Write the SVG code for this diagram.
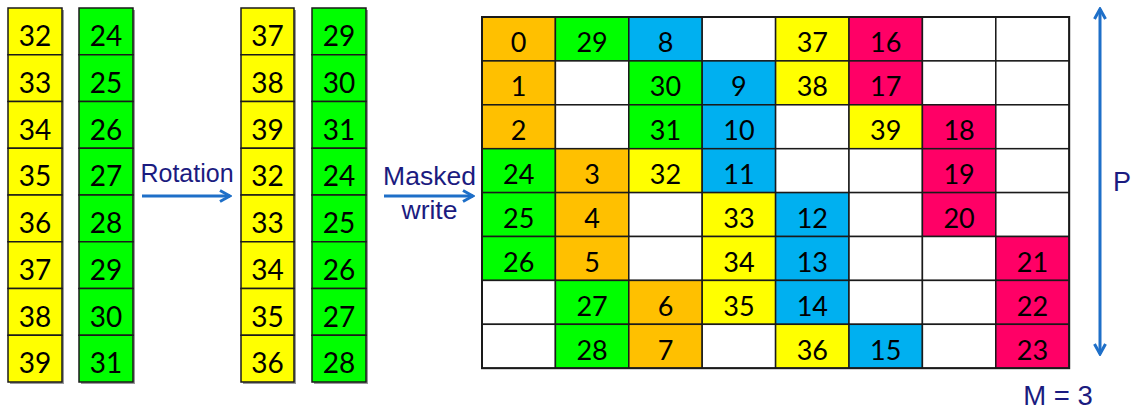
<svg xmlns="http://www.w3.org/2000/svg" width="1132" height="412" viewBox="0 0 1132 412">
<defs>
<style>
.c{stroke:#1a1a1a;stroke-width:1.5}
.sh{fill:#9a9a9a}
.y{fill:#FFFF00}.g{fill:#00FF00}.o{fill:#FFC000}.b{fill:#00B0F0}.p{fill:#FF0066}.w{fill:#FFFFFF}
.t{font-family:Lato,"Liberation Sans",sans-serif;font-size:28px;fill:#000;text-anchor:middle}
.gt{font-family:Lato,"Liberation Sans",sans-serif;font-size:27px;fill:#000;text-anchor:middle}
.lb{font-family:"Liberation Sans",Arial,sans-serif;fill:#1B1B80;text-anchor:middle}
.ar{stroke:#1E6FC8;stroke-width:3;fill:none}
</style>
<marker id="ah" viewBox="0 0 14 14" refX="12" refY="7" markerWidth="14" markerHeight="14" markerUnits="userSpaceOnUse" orient="auto-start-reverse">
<path d="M2,1.5 L12,7 L2,12.5" fill="none" stroke="#1E6FC8" stroke-width="3"/>
</marker>
</defs>
<rect width="1132" height="412" fill="#fff"/>

<!-- shadows -->
<rect class="sh" x="10" y="10" width="54" height="374"/>
<rect class="sh" x="81" y="10" width="54" height="374"/>
<rect class="sh" x="243" y="10" width="53" height="374"/>
<rect class="sh" x="314" y="10" width="54" height="374"/>

<g id="col1">
<g id="c1-0"><rect class="c y" x="8" y="8" width="54" height="46.75"/><text class="t" x="35" y="46">32</text></g>
<g id="c1-1"><rect class="c y" x="8" y="54.75" width="54" height="46.75"/><text class="t" x="35" y="92.75">33</text></g>
<g id="c1-2"><rect class="c y" x="8" y="101.5" width="54" height="46.75"/><text class="t" x="35" y="139.5">34</text></g>
<g id="c1-3"><rect class="c y" x="8" y="148.25" width="54" height="46.75"/><text class="t" x="35" y="186.25">35</text></g>
<g id="c1-4"><rect class="c y" x="8" y="195" width="54" height="46.75"/><text class="t" x="35" y="233">36</text></g>
<g id="c1-5"><rect class="c y" x="8" y="241.75" width="54" height="46.75"/><text class="t" x="35" y="279.75">37</text></g>
<g id="c1-6"><rect class="c y" x="8" y="288.5" width="54" height="46.75"/><text class="t" x="35" y="326.5">38</text></g>
<g id="c1-7"><rect class="c y" x="8" y="335.25" width="54" height="46.75"/><text class="t" x="35" y="373.25">39</text></g>
</g>
<g id="col2">
<g id="c2-0"><rect class="c g" x="79" y="8" width="54" height="46.75"/><text class="t" x="106" y="46">24</text></g>
<g id="c2-1"><rect class="c g" x="79" y="54.75" width="54" height="46.75"/><text class="t" x="106" y="92.75">25</text></g>
<g id="c2-2"><rect class="c g" x="79" y="101.5" width="54" height="46.75"/><text class="t" x="106" y="139.5">26</text></g>
<g id="c2-3"><rect class="c g" x="79" y="148.25" width="54" height="46.75"/><text class="t" x="106" y="186.25">27</text></g>
<g id="c2-4"><rect class="c g" x="79" y="195" width="54" height="46.75"/><text class="t" x="106" y="233">28</text></g>
<g id="c2-5"><rect class="c g" x="79" y="241.75" width="54" height="46.75"/><text class="t" x="106" y="279.75">29</text></g>
<g id="c2-6"><rect class="c g" x="79" y="288.5" width="54" height="46.75"/><text class="t" x="106" y="326.5">30</text></g>
<g id="c2-7"><rect class="c g" x="79" y="335.25" width="54" height="46.75"/><text class="t" x="106" y="373.25">31</text></g>
</g>
<g id="col3">
<g id="c3-0"><rect class="c y" x="241" y="8" width="53" height="46.75"/><text class="t" x="267.5" y="46">37</text></g>
<g id="c3-1"><rect class="c y" x="241" y="54.75" width="53" height="46.75"/><text class="t" x="267.5" y="92.75">38</text></g>
<g id="c3-2"><rect class="c y" x="241" y="101.5" width="53" height="46.75"/><text class="t" x="267.5" y="139.5">39</text></g>
<g id="c3-3"><rect class="c y" x="241" y="148.25" width="53" height="46.75"/><text class="t" x="267.5" y="186.25">32</text></g>
<g id="c3-4"><rect class="c y" x="241" y="195" width="53" height="46.75"/><text class="t" x="267.5" y="233">33</text></g>
<g id="c3-5"><rect class="c y" x="241" y="241.75" width="53" height="46.75"/><text class="t" x="267.5" y="279.75">34</text></g>
<g id="c3-6"><rect class="c y" x="241" y="288.5" width="53" height="46.75"/><text class="t" x="267.5" y="326.5">35</text></g>
<g id="c3-7"><rect class="c y" x="241" y="335.25" width="53" height="46.75"/><text class="t" x="267.5" y="373.25">36</text></g>
</g>
<g id="col4">
<g id="c4-0"><rect class="c g" x="312" y="8" width="54" height="46.75"/><text class="t" x="339" y="46">29</text></g>
<g id="c4-1"><rect class="c g" x="312" y="54.75" width="54" height="46.75"/><text class="t" x="339" y="92.75">30</text></g>
<g id="c4-2"><rect class="c g" x="312" y="101.5" width="54" height="46.75"/><text class="t" x="339" y="139.5">31</text></g>
<g id="c4-3"><rect class="c g" x="312" y="148.25" width="54" height="46.75"/><text class="t" x="339" y="186.25">24</text></g>
<g id="c4-4"><rect class="c g" x="312" y="195" width="54" height="46.75"/><text class="t" x="339" y="233">25</text></g>
<g id="c4-5"><rect class="c g" x="312" y="241.75" width="54" height="46.75"/><text class="t" x="339" y="279.75">26</text></g>
<g id="c4-6"><rect class="c g" x="312" y="288.5" width="54" height="46.75"/><text class="t" x="339" y="326.5">27</text></g>
<g id="c4-7"><rect class="c g" x="312" y="335.25" width="54" height="46.75"/><text class="t" x="339" y="373.25">28</text></g>
</g>

<g id="grid">
<!-- row 0 -->
<g id="g0-0"><rect class="c o" x="482" y="17" width="73.4" height="43.9"/><text class="gt" x="518.7" y="52.3">0</text></g>
<g id="g0-1"><rect class="c g" x="555.4" y="17" width="73.4" height="43.9"/><text class="gt" x="592.1" y="52.3">29</text></g>
<g id="g0-2"><rect class="c b" x="628.8" y="17" width="73.4" height="43.9"/><text class="gt" x="665.5" y="52.3">8</text></g>
<g id="g0-3"><rect class="c w" x="702.2" y="17" width="73.4" height="43.9"/></g>
<g id="g0-4"><rect class="c y" x="775.6" y="17" width="73.4" height="43.9"/><text class="gt" x="812.3" y="52.3">37</text></g>
<g id="g0-5"><rect class="c p" x="849" y="17" width="73.4" height="43.9"/><text class="gt" x="885.7" y="52.3">16</text></g>
<g id="g0-6"><rect class="c w" x="922.4" y="17" width="73.4" height="43.9"/></g>
<g id="g0-7"><rect class="c w" x="995.8" y="17" width="73.4" height="43.9"/></g>
<!-- row 1 -->
<g id="g1-0"><rect class="c o" x="482" y="60.9" width="73.4" height="43.9"/><text class="gt" x="518.7" y="96.2">1</text></g>
<g id="g1-1"><rect class="c w" x="555.4" y="60.9" width="73.4" height="43.9"/></g>
<g id="g1-2"><rect class="c g" x="628.8" y="60.9" width="73.4" height="43.9"/><text class="gt" x="665.5" y="96.2">30</text></g>
<g id="g1-3"><rect class="c b" x="702.2" y="60.9" width="73.4" height="43.9"/><text class="gt" x="738.9" y="96.2">9</text></g>
<g id="g1-4"><rect class="c y" x="775.6" y="60.9" width="73.4" height="43.9"/><text class="gt" x="812.3" y="96.2">38</text></g>
<g id="g1-5"><rect class="c p" x="849" y="60.9" width="73.4" height="43.9"/><text class="gt" x="885.7" y="96.2">17</text></g>
<g id="g1-6"><rect class="c w" x="922.4" y="60.9" width="73.4" height="43.9"/></g>
<g id="g1-7"><rect class="c w" x="995.8" y="60.9" width="73.4" height="43.9"/></g>
<!-- row 2 -->
<g id="g2-0"><rect class="c o" x="482" y="104.8" width="73.4" height="43.9"/><text class="gt" x="518.7" y="140.1">2</text></g>
<g id="g2-1"><rect class="c w" x="555.4" y="104.8" width="73.4" height="43.9"/></g>
<g id="g2-2"><rect class="c g" x="628.8" y="104.8" width="73.4" height="43.9"/><text class="gt" x="665.5" y="140.1">31</text></g>
<g id="g2-3"><rect class="c b" x="702.2" y="104.8" width="73.4" height="43.9"/><text class="gt" x="738.9" y="140.1">10</text></g>
<g id="g2-4"><rect class="c w" x="775.6" y="104.8" width="73.4" height="43.9"/></g>
<g id="g2-5"><rect class="c y" x="849" y="104.8" width="73.4" height="43.9"/><text class="gt" x="885.7" y="140.1">39</text></g>
<g id="g2-6"><rect class="c p" x="922.4" y="104.8" width="73.4" height="43.9"/><text class="gt" x="959.1" y="140.1">18</text></g>
<g id="g2-7"><rect class="c w" x="995.8" y="104.8" width="73.4" height="43.9"/></g>
<!-- row 3 -->
<g id="g3-0"><rect class="c g" x="482" y="148.7" width="73.4" height="43.9"/><text class="gt" x="518.7" y="184">24</text></g>
<g id="g3-1"><rect class="c o" x="555.4" y="148.7" width="73.4" height="43.9"/><text class="gt" x="592.1" y="184">3</text></g>
<g id="g3-2"><rect class="c y" x="628.8" y="148.7" width="73.4" height="43.9"/><text class="gt" x="665.5" y="184">32</text></g>
<g id="g3-3"><rect class="c b" x="702.2" y="148.7" width="73.4" height="43.9"/><text class="gt" x="738.9" y="184">11</text></g>
<g id="g3-4"><rect class="c w" x="775.6" y="148.7" width="73.4" height="43.9"/></g>
<g id="g3-5"><rect class="c w" x="849" y="148.7" width="73.4" height="43.9"/></g>
<g id="g3-6"><rect class="c p" x="922.4" y="148.7" width="73.4" height="43.9"/><text class="gt" x="959.1" y="184">19</text></g>
<g id="g3-7"><rect class="c w" x="995.8" y="148.7" width="73.4" height="43.9"/></g>
<!-- row 4 -->
<g id="g4-0"><rect class="c g" x="482" y="192.6" width="73.4" height="43.9"/><text class="gt" x="518.7" y="227.9">25</text></g>
<g id="g4-1"><rect class="c o" x="555.4" y="192.6" width="73.4" height="43.9"/><text class="gt" x="592.1" y="227.9">4</text></g>
<g id="g4-2"><rect class="c w" x="628.8" y="192.6" width="73.4" height="43.9"/></g>
<g id="g4-3"><rect class="c y" x="702.2" y="192.6" width="73.4" height="43.9"/><text class="gt" x="738.9" y="227.9">33</text></g>
<g id="g4-4"><rect class="c b" x="775.6" y="192.6" width="73.4" height="43.9"/><text class="gt" x="812.3" y="227.9">12</text></g>
<g id="g4-5"><rect class="c w" x="849" y="192.6" width="73.4" height="43.9"/></g>
<g id="g4-6"><rect class="c p" x="922.4" y="192.6" width="73.4" height="43.9"/><text class="gt" x="959.1" y="227.9">20</text></g>
<g id="g4-7"><rect class="c w" x="995.8" y="192.6" width="73.4" height="43.9"/></g>
<!-- row 5 -->
<g id="g5-0"><rect class="c g" x="482" y="236.5" width="73.4" height="43.9"/><text class="gt" x="518.7" y="271.8">26</text></g>
<g id="g5-1"><rect class="c o" x="555.4" y="236.5" width="73.4" height="43.9"/><text class="gt" x="592.1" y="271.8">5</text></g>
<g id="g5-2"><rect class="c w" x="628.8" y="236.5" width="73.4" height="43.9"/></g>
<g id="g5-3"><rect class="c y" x="702.2" y="236.5" width="73.4" height="43.9"/><text class="gt" x="738.9" y="271.8">34</text></g>
<g id="g5-4"><rect class="c b" x="775.6" y="236.5" width="73.4" height="43.9"/><text class="gt" x="812.3" y="271.8">13</text></g>
<g id="g5-5"><rect class="c w" x="849" y="236.5" width="73.4" height="43.9"/></g>
<g id="g5-6"><rect class="c w" x="922.4" y="236.5" width="73.4" height="43.9"/></g>
<g id="g5-7"><rect class="c p" x="995.8" y="236.5" width="73.4" height="43.9"/><text class="gt" x="1032.5" y="271.8">21</text></g>
<!-- row 6 -->
<g id="g6-0"><rect class="c w" x="482" y="280.4" width="73.4" height="43.9"/></g>
<g id="g6-1"><rect class="c g" x="555.4" y="280.4" width="73.4" height="43.9"/><text class="gt" x="592.1" y="315.7">27</text></g>
<g id="g6-2"><rect class="c o" x="628.8" y="280.4" width="73.4" height="43.9"/><text class="gt" x="665.5" y="315.7">6</text></g>
<g id="g6-3"><rect class="c y" x="702.2" y="280.4" width="73.4" height="43.9"/><text class="gt" x="738.9" y="315.7">35</text></g>
<g id="g6-4"><rect class="c b" x="775.6" y="280.4" width="73.4" height="43.9"/><text class="gt" x="812.3" y="315.7">14</text></g>
<g id="g6-5"><rect class="c w" x="849" y="280.4" width="73.4" height="43.9"/></g>
<g id="g6-6"><rect class="c w" x="922.4" y="280.4" width="73.4" height="43.9"/></g>
<g id="g6-7"><rect class="c p" x="995.8" y="280.4" width="73.4" height="43.9"/><text class="gt" x="1032.5" y="315.7">22</text></g>
<!-- row 7 -->
<g id="g7-0"><rect class="c w" x="482" y="324.3" width="73.4" height="43.9"/></g>
<g id="g7-1"><rect class="c g" x="555.4" y="324.3" width="73.4" height="43.9"/><text class="gt" x="592.1" y="359.6">28</text></g>
<g id="g7-2"><rect class="c o" x="628.8" y="324.3" width="73.4" height="43.9"/><text class="gt" x="665.5" y="359.6">7</text></g>
<g id="g7-3"><rect class="c w" x="702.2" y="324.3" width="73.4" height="43.9"/></g>
<g id="g7-4"><rect class="c y" x="775.6" y="324.3" width="73.4" height="43.9"/><text class="gt" x="812.3" y="359.6">36</text></g>
<g id="g7-5"><rect class="c b" x="849" y="324.3" width="73.4" height="43.9"/><text class="gt" x="885.7" y="359.6">15</text></g>
<g id="g7-6"><rect class="c w" x="922.4" y="324.3" width="73.4" height="43.9"/></g>
<g id="g7-7"><rect class="c p" x="995.8" y="324.3" width="73.4" height="43.9"/><text class="gt" x="1032.5" y="359.6">23</text></g>
<rect x="482" y="17" width="587.2" height="351.2" fill="none" stroke="#1a1a1a" stroke-width="2"/>
</g>

<g id="connectors">
<line class="ar" x1="142" y1="196" x2="230" y2="196" marker-end="url(#ah)"/>
<line class="ar" x1="384" y1="196" x2="473" y2="196" marker-end="url(#ah)"/>
<line class="ar" x1="1100" y1="9" x2="1100" y2="354" marker-start="url(#ah)" marker-end="url(#ah)"/>
</g>

<g id="labels">
<text class="lb" x="187" y="182" style="font-size:25px">Rotation</text>
<text class="lb" x="429.5" y="185" style="font-size:26.5px">Masked</text>
<text class="lb" x="429.5" y="219" style="font-size:26.5px">write</text>
<text class="lb" x="1122" y="191" style="font-size:27px">P</text>
<text class="lb" x="1058" y="405" style="font-size:27.5px">M = 3</text>
</g>
</svg>
